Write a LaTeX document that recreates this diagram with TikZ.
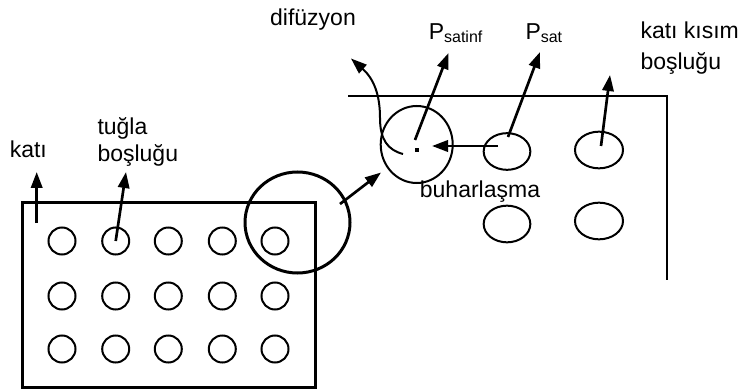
\documentclass[tikz,border=0pt]{standalone}
\usepackage{fontspec}
\setmainfont{Liberation Sans}
\usetikzlibrary{arrows.meta,shapes.geometric}

\tikzset{every picture/.style={line width=0.75pt}}
\tikzset{
  pore/.style={draw, circle, minimum size=20.25pt, inner sep=0pt, line width=1.5pt},
  cavity/.style={draw, ellipse, minimum width=35pt, minimum height=27.5pt, inner sep=0pt, line width=1.5pt},
  arr/.style={-{Triangle[length=12pt,width=8.5pt]}, line width=2pt},
  lbl/.style={inner sep=0pt, font=\fontsize{17.25}{23}\selectfont}
}
\newcommand{\satsub}[1]{\raisebox{-2.5pt}{\fontsize{12}{14}\selectfont #1}}

\begin{document}
\begin{tikzpicture}[x=0.75pt,y=0.75pt,yscale=-1,xscale=1]
	\useasboundingbox (0,0) rectangle (746,392);

	%Shape: Rectangle 
	\draw  [line width=2.25pt] (22.7,202.7) rectangle (315,387.7) ;
	%Shape: Circle row 1
	\node [pore] (b11) at (62,241) {};
	\node [pore] (b12) at (115.7,241) {};
	\node [pore] (b13) at (168.3,241) {};
	\node [pore] (b14) at (222.3,241) {};
	\node [pore] (b15) at (275,241) {};
	%Shape: Circle row 2
	\node [pore] (b21) at (62,296) {};
	\node [pore] (b22) at (115.7,296) {};
	\node [pore] (b23) at (168.3,296) {};
	\node [pore] (b24) at (222.3,296) {};
	\node [pore] (b25) at (275,296) {};
	%Shape: Circle row 3
	\node [pore] (b31) at (62,349) {};
	\node [pore] (b32) at (115.7,349) {};
	\node [pore] (b33) at (168.3,349) {};
	\node [pore] (b34) at (222.3,349) {};
	\node [pore] (b35) at (275,349) {};
	%Shape: Ellipse (detail)
	\node [draw, ellipse, inner sep=0pt, minimum width=78.75pt, minimum height=75.75pt, line width=2.25pt] (detay) at (297.5,222.5) {};

	%Straight Lines: solid part edge
	\draw  [line width=1.5pt] (348,96) -- (666.7,96) -- (666.7,280) ;
	%Shape: Ellipse (pore)
	\node [draw, ellipse, inner sep=0pt, minimum width=54pt, minimum height=57.75pt, line width=1.5pt] (gozenek) at (416.7,144.5) {};
	%Shape: Ellipse
	\node [cavity] (e1) at (507,151.5) {};
	\node [cavity, minimum width=36pt] (e2) at (599,150) {};
	\node [cavity] (e3) at (507,224) {};
	\node [cavity, minimum width=36pt] (e4) at (599,221) {};
	%Shape: Square (dot)
	\fill (414.7,148) rectangle (418.7,152) ;

	% Text Node
	\node [lbl, anchor=base west] (kati) at (9.3,157.3) {katı};
	% Text Node
	\node [lbl, anchor=base west] (tugla1) at (97,135) {tuğla};
	\node [lbl, anchor=base west] (tugla2) at (97,162) {boşluğu};
	% Text Node
	\node [lbl, anchor=base] (difuzyon) at (313,26) {difüzyon};
	% Text Node
	\node [lbl, anchor=base west] (psatinf) at (428.3,39.3) {P\satsub{satinf}};
	% Text Node
	\node [lbl, anchor=base west] (psat) at (525,39.3) {P\satsub{sat}};
	% Text Node
	\node [lbl, anchor=base west] (katikisim1) at (640,39) {katı kısım};
	\node [lbl, anchor=base west] (katikisim2) at (640,70) {boşluğu};
	% Text Node
	\node [lbl, anchor=base] (buhar) at (480,198) {buharlaşma};

	%Straight Lines
	\coordinate (katiucu) at (36.7,172) ;
	\coordinate (katikok) at (36.7,223) ;
	\draw [arr] (katikok) -- (katiucu) ;
	\coordinate (tuglaucu) at (126,172) ;
	\draw [arr] (b12.center) -- (tuglaucu) ;
	\coordinate (detaykok) at (340,204) ;
	\coordinate (detayucu) at (381,172.5) ;
	\draw [arr] (detaykok) -- (detayucu) ;
	\coordinate (p1kok) at (415,140) ;
	\coordinate (p1ucu) at (448.5,53) ;
	\draw [arr] (p1kok) -- (p1ucu) ;
	\coordinate (p2kok) at (508,137) ;
	\coordinate (p2ucu) at (540,52) ;
	\draw [arr] (p2kok) -- (p2ucu) ;
	\coordinate (buharkok) at (498,146) ;
	\coordinate (buharucu) at (432,146) ;
	\draw [arr] (buharkok) -- (buharucu) ;
	\coordinate (kkok) at (601,146) ;
	\coordinate (kucu) at (610,75) ;
	\draw [arr] (kkok) -- (kucu) ;
	%Curve Lines
	\coordinate (difkok) at (403,154) ;
	\coordinate (difucu) at (351,58.5) ;
	\draw [arr, line width=1.5pt] (difkok) .. controls (388,150) and (380,140) .. (380,118) .. controls (380,95) and (374,79) .. (difucu) ;

\end{tikzpicture}
\end{document}
